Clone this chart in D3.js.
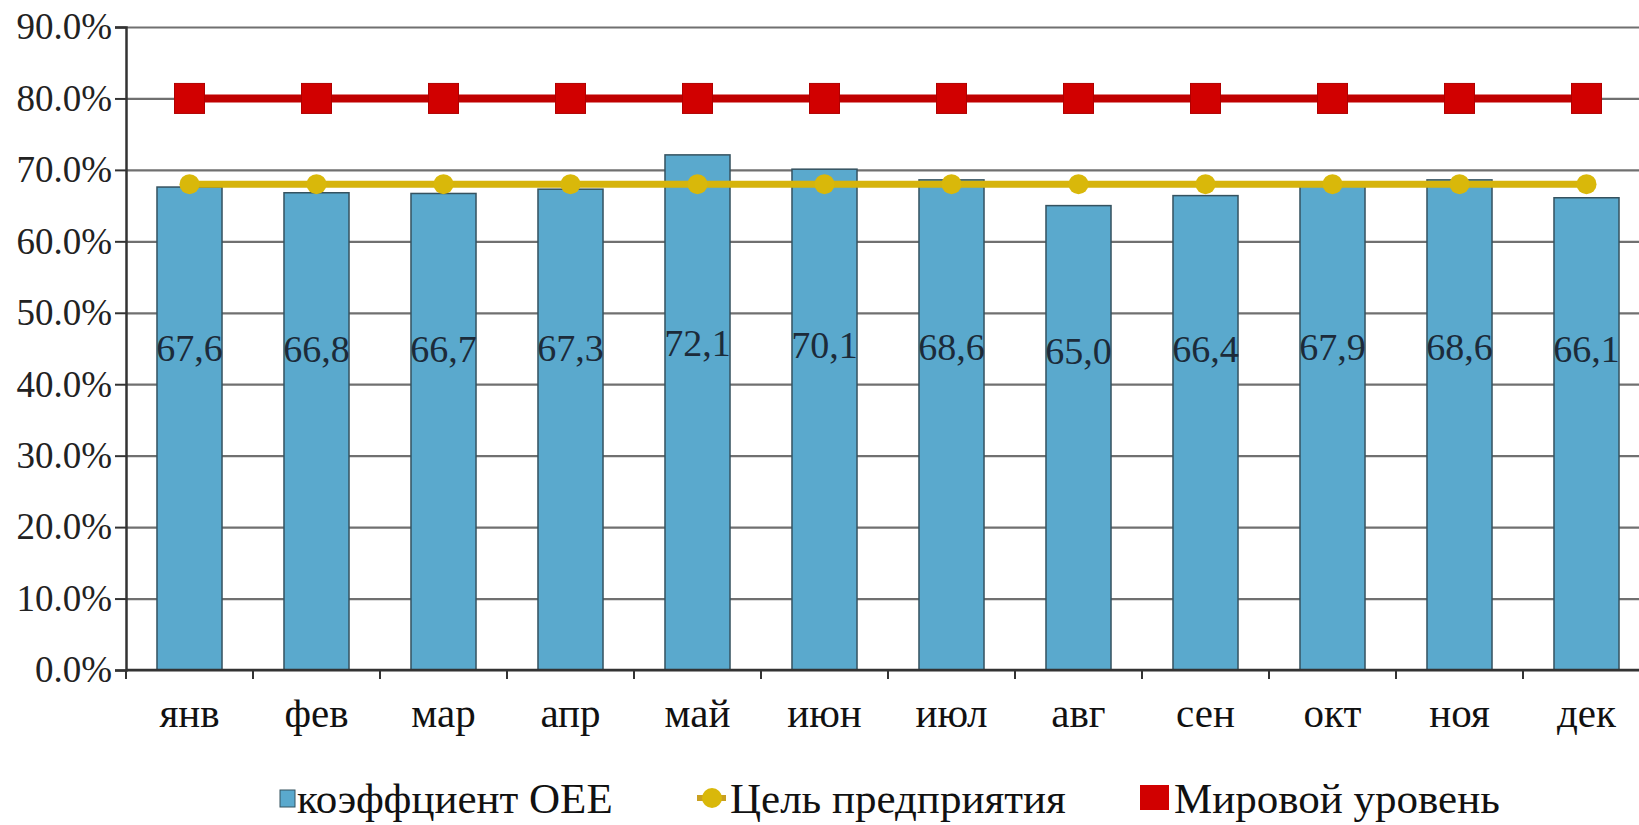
<!DOCTYPE html>
<html>
<head>
<meta charset="utf-8">
<script src="https://cdn.jsdelivr.net/npm/d3@7"></script>
<style>
  body { margin: 0; background: #fff; }
  svg { display: block; }
  svg text { font-family: "Liberation Serif", "DejaVu Serif", serif; }
</style>
</head>
<body>
<div id="chart"></div>
<script>
// months on the x axis
let months = ["янв", "фев", "мар", "апр", "май", "июн", "июл", "авг", "сен", "окт", "ноя", "дек"];
// OEE coefficient per month, percent
let oee = [67.6, 66.8, 66.7, 67.3, 72.1, 70.1, 68.6, 65.0, 66.4, 67.9, 68.6, 66.1];
// company target, percent
let target = [68, 68, 68, 68, 68, 68, 68, 68, 68, 68, 68, 68];
// world level, percent
let world = [80, 80, 80, 80, 80, 80, 80, 80, 80, 80, 80, 80];
// y ticks
let yTicks = [0, 10, 20, 30, 40, 50, 60, 70, 80, 90];
let legendNames = ["коэффциент ОЕЕ", "Цель предприятия", "Мировой уровень"];

let W = 1639, H = 825;
let mLeft = 126, mRight = 1650, mTop = 27, mBottom = 670;

let svg = d3.select("#chart").append("svg")
    .attr("width", W)
    .attr("height", H);

// scales
let x = d3.scaleBand()
    .domain(months)
    .range([mLeft, mRight])
    .paddingInner(0.488)
    .paddingOuter(0.244);

let y = d3.scaleLinear()
    .domain([0, 90])
    .range([mBottom, mTop]);

// gridlines
svg.append("g")
    .attr("transform", "translate(" + mLeft + ",0)")
    .call(d3.axisLeft(y).tickValues(yTicks).tickSize(-(W - mLeft)).tickFormat(""))
    .call(g => g.select(".domain").remove())
    .selectAll("line")
    .attr("stroke", "#707070")
    .attr("stroke-width", 2.2);

// y axis
let yAxis = svg.append("g")
    .attr("transform", "translate(" + mLeft + ",0)")
    .call(d3.axisLeft(y).tickValues(yTicks).tickSize(11).tickPadding(3)
        .tickFormat(d => d.toFixed(1) + "%"));
yAxis.attr("font-family", null);
yAxis.select(".domain").attr("stroke", "#333").attr("stroke-width", 2.5);
yAxis.selectAll("line").attr("stroke", "#333").attr("stroke-width", 2);
yAxis.selectAll("text")
    .attr("font-size", 37)
    .attr("fill", "#222");

// bars
let barData = months.map((m, i) => ({ m: m, v: oee[i] }));
svg.append("g").selectAll("rect")
    .data(barData)
    .enter()
    .append("rect")
    .attr("x", d => x(d.m))
    .attr("y", d => y(d.v))
    .attr("width", x.bandwidth())
    .attr("height", d => y(0) - y(d.v))
    .attr("fill", "#5aa9cd")
    .attr("stroke", "#35525f")
    .attr("stroke-width", 1.5);

// x axis baseline
svg.append("line")
    .attr("x1", mLeft).attr("x2", W)
    .attr("y1", y(0)).attr("y2", y(0))
    .attr("stroke", "#333")
    .attr("stroke-width", 2.5);

// x ticks at category boundaries
let gap = (x.step() - x.bandwidth()) / 2;
let bounds = months.map(m => x(m) - gap);
bounds.push(x(months[months.length - 1]) + x.bandwidth() + gap);
svg.append("g").selectAll("line")
    .data(bounds)
    .enter()
    .append("line")
    .attr("x1", d => d).attr("x2", d => d)
    .attr("y1", y(0)).attr("y2", y(0) + 9)
    .attr("stroke", "#333")
    .attr("stroke-width", 2);

// month labels
svg.append("g").selectAll("text")
    .data(months)
    .enter()
    .append("text")
    .attr("x", d => x(d) + x.bandwidth() / 2)
    .attr("y", 727)
    .attr("text-anchor", "middle")
    .attr("font-size", 41)
    .attr("fill", "#111")
    .text(d => d);

// bar value labels
svg.append("g").selectAll("text")
    .data(barData)
    .enter()
    .append("text")
    .attr("x", d => x(d.m) + x.bandwidth() / 2)
    .attr("y", d => y(35 + d.v * 0.15))
    .attr("dy", "0.35em")
    .attr("text-anchor", "middle")
    .attr("font-size", 38)
    .attr("fill", "#1c2b3a")
    .text(d => d.v.toFixed(1).replace(".", ","));

// line series
let cx = (d, i) => x(months[i]) + x.bandwidth() / 2;
let line = d3.line().x(cx).y(d => y(d));

svg.append("path")
    .datum(target)
    .attr("d", line)
    .attr("fill", "none")
    .attr("stroke", "#d6b40c")
    .attr("stroke-width", 7);
svg.append("g").selectAll("circle")
    .data(target)
    .enter()
    .append("circle")
    .attr("cx", cx)
    .attr("cy", d => y(d))
    .attr("r", 10)
    .attr("fill", "#d9b80a");

svg.append("path")
    .datum(world)
    .attr("d", line)
    .attr("fill", "none")
    .attr("stroke", "#c00000")
    .attr("stroke-width", 8);
svg.append("g").selectAll("rect")
    .data(world)
    .enter()
    .append("rect")
    .attr("x", (d, i) => cx(d, i) - 15)
    .attr("y", d => y(d) - 15)
    .attr("width", 30)
    .attr("height", 30)
    .attr("fill", "#d10000")
    .attr("stroke", "#b00000")
    .attr("stroke-width", 1);

// legend
let legend = svg.append("g")
    .attr("font-size", 43)
    .attr("fill", "#111");
let ly = 798, baseY = 813;

legend.append("rect")
    .attr("x", 280).attr("y", ly - 8).attr("width", 15).attr("height", 17)
    .attr("fill", "#5aa9cd").attr("stroke", "#35525f").attr("stroke-width", 1);
legend.append("text").attr("x", 297).attr("y", baseY).text(legendNames[0]);

legend.append("line")
    .attr("x1", 697).attr("x2", 726).attr("y1", ly).attr("y2", ly)
    .attr("stroke", "#c9a020").attr("stroke-width", 6);
legend.append("circle").attr("cx", 712).attr("cy", ly).attr("r", 10).attr("fill", "#d9b80a");
legend.append("text").attr("x", 730).attr("y", baseY).text(legendNames[1]);

legend.append("rect")
    .attr("x", 1140).attr("y", ly - 13).attr("width", 29).attr("height", 25)
    .attr("fill", "#d10000");
legend.append("text").attr("x", 1174).attr("y", baseY).text(legendNames[2]);
</script>
</body>
</html>
